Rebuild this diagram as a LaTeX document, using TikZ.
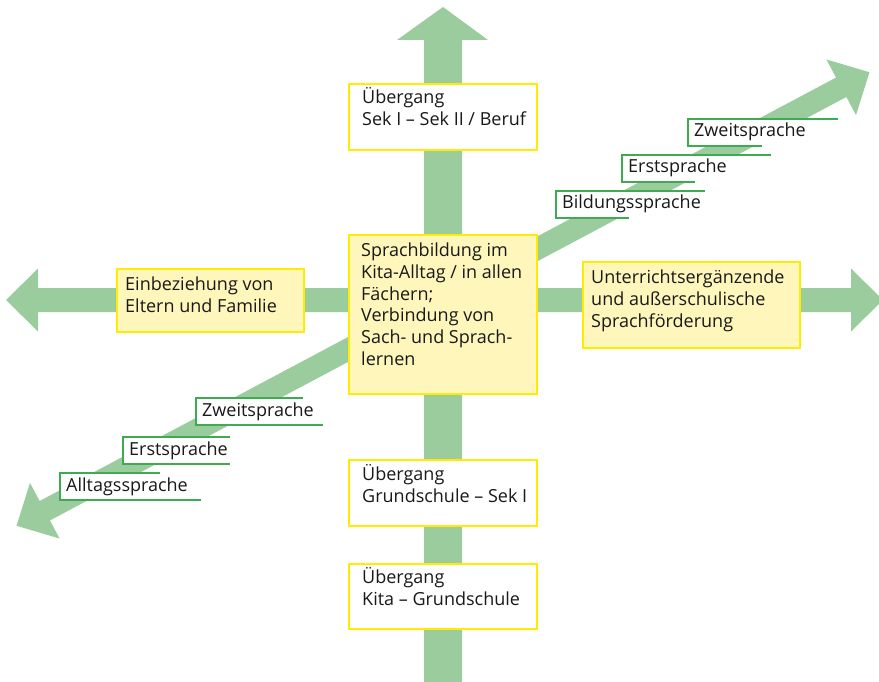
\documentclass[tikz,border=0pt]{standalone}
\usepackage{fontspec}
\setmainfont{Open Sans}
\usepackage{tikz}
\usetikzlibrary{calc}
\definecolor{pfeilgruen}{RGB}{154,204,158}
\definecolor{kastengelb}{RGB}{255,246,187}
\definecolor{randgelb}{RGB}{255,236,0}
\definecolor{liniengruen}{RGB}{62,170,82}
\definecolor{schrift}{RGB}{25,25,25}
\newcommand{\boxtext}[1]{\parbox[t]{240pt}{\raggedright #1}}

\begin{document}
\begin{tikzpicture}[x=1pt, y=-1pt,
  pfeil/.style={fill=pfeilgruen},
  kasten/.style={rectangle, draw=randgelb, line width=2.4pt, anchor=north west, inner sep=0pt},
  gelbkasten/.style={kasten, fill=kastengelb},
  weisskasten/.style={kasten, fill=white},
  txt/.style={anchor=base west, inner sep=0pt, text=schrift, font=\fontsize{18}{22}\selectfont},
  stufenlinie/.style={draw=liniengruen, line width=2.2pt}]
  \newcommand{\mx}{443}
  \newcommand{\my}{300}
  \useasboundingbox (0,0) rectangle (879,682);
  \clip (0,0) rectangle (879,682);

  % Pfeile
  \fill[pfeil] (424,700) -- (424,40) -- (397,40) -- (\mx,7) -- (488,40) -- (462,40) -- (462,700) -- cycle;
  \fill[pfeil] (38,288) -- (38,268.5) -- (6,\my) -- (38,331.5) -- (38,312) -- %%
  (851,312) -- (851,331.5) -- (883,\my) -- (851,268.5) -- (851,288) -- cycle;
  \begin{scope}[shift={(\mx,299)}, rotate=28]
    \fill[pfeil] (-451,-11) -- (451,-11) -- (451,-31.5) -- (483,0) -- (451,31.5) -- %%
    (451,11) -- (-451,11) -- (-451,31.5) -- (-483,0) -- (-451,-31.5) -- cycle;
  \end{scope}

  % Kaesten
  \node[weisskasten, minimum width=188, minimum height=66] (sekzwei) at (348,83) {};
  \node[txt] (sekzweitext) at ($(sekzwei.north west)+(14,21)$) %%
  {\boxtext{Übergang\\Sek I – Sek II / Beruf}};

  \node[gelbkasten, minimum width=188, minimum height=159] (mitte) at (348,234) {};
  \node[txt] (mittetext) at ($(mitte.north west)+(13,22)$) %%
  {\boxtext{Sprachbildung im\\Kita-Alltag / in allen\\Fächern;\\Verbindung von\\Sach- und Sprach-\\lernen}};

  \node[gelbkasten, minimum width=187, minimum height=63] (eltern) at (116,268) {};
  \node[txt] (elterntext) at ($(eltern.north west)+(9,22)$) %%
  {\boxtext{Einbeziehung von\\Eltern und Familie}};

  \node[gelbkasten, minimum width=217, minimum height=86] (foerder) at (582,261) {};
  \node[txt] (foerdertext) at ($(foerder.north west)+(9,22)$) %%
  {\boxtext{Unterrichtsergänzende\\und außerschulische\\Sprachförderung}};

  \node[weisskasten, minimum width=188, minimum height=66] (grund) at (348,459) {};
  \node[txt] (grundtext) at ($(grund.north west)+(14,21)$) %%
  {\boxtext{Übergang\\Grundschule – Sek I}};

  \node[weisskasten, minimum width=188, minimum height=65] (kita) at (348,563) {};
  \node[txt] (kitatext) at ($(kita.north west)+(14,20)$) %%
  {\boxtext{Übergang\\Kita – Grundschule}};

  % Stufen: Name, x, y, obere Linie, untere Linie, Text
  \newcommand{\stufe}[6]{%
    \fill[white] (#2,#3) rectangle ++({max(#4,#5)},27);
    \draw[stufenlinie] (#2+#4,#3) -- (#2,#3) -- (#2,#3+27) -- (#2+#5,#3+27);
    \node[txt] (#1) at (#2+6,#3+18) {#6};}

  \stufe{zweitoben}{688}{119}{150}{74}{Zweitsprache}
  \stufe{erstoben}{622}{155}{149}{73}{Erstsprache}
  \stufe{bildung}{556}{191}{149}{73}{Bildungssprache}

  \stufe{zweitunten}{196}{398}{107}{127}{Zweitsprache}
  \stufe{erstunten}{123}{437}{107}{107}{Erstsprache}
  \stufe{alltag}{60}{473}{100}{141}{Alltagssprache}
\end{tikzpicture}
\end{document}
